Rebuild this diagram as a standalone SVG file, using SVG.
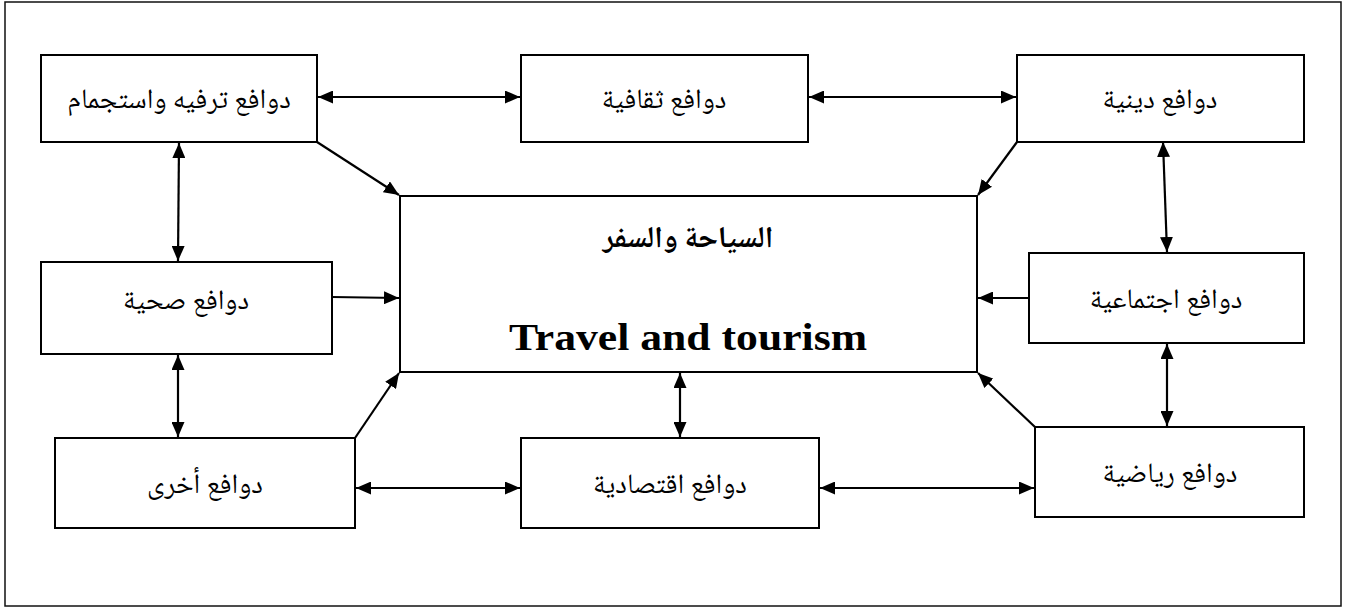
<svg xmlns="http://www.w3.org/2000/svg" width="1345" height="608" viewBox="0 0 1345 608">
<style>
.box{fill:#fff;stroke:#000;stroke-width:2}
.lbl{font-family:"Noto Naskh Arabic","Amiri","Noto Sans Arabic","DejaVu Sans",sans-serif;font-size:28px;fill:#000;text-anchor:middle}
.con{stroke:#000;stroke-width:2.2;fill:none}
.one{marker-end:url(#ah)}
.two{marker-end:url(#ah);marker-start:url(#ah)}
</style>
<defs>
<marker id="ah" markerUnits="userSpaceOnUse" markerWidth="16" markerHeight="13" refX="15" refY="6.5" orient="auto-start-reverse" viewBox="0 0 16 13">
<path d="M0,0 L15,6.5 L0,13 z" fill="#000"/>
</marker>
</defs>
<rect x="5" y="2" width="1336" height="604" fill="#fff" stroke="#111" stroke-width="1.5"/>
<g id="connectors">
<line class="con two" x1="318" y1="97" x2="520" y2="97"/>
<line class="con two" x1="809" y1="97" x2="1016" y2="97"/>
<line class="con one" x1="317" y1="142" x2="399" y2="195"/>
<line class="con one" x1="1017" y1="142" x2="978" y2="195"/>
<line class="con two" x1="179" y1="143" x2="178" y2="261"/>
<line class="con one" x1="332" y1="297" x2="399" y2="298"/>
<line class="con two" x1="178" y1="355" x2="178" y2="437"/>
<line class="con one" x1="355" y1="438" x2="399" y2="373"/>
<line class="con two" x1="356" y1="488" x2="520" y2="488"/>
<line class="con two" x1="680" y1="373" x2="680" y2="437"/>
<line class="con two" x1="820" y1="488" x2="1034" y2="488"/>
<line class="con one" x1="1035" y1="427" x2="978" y2="373"/>
<line class="con one" x1="1029" y1="298" x2="978" y2="298"/>
<line class="con two" x1="1163" y1="142" x2="1167" y2="252"/>
<line class="con two" x1="1167" y1="344" x2="1167" y2="426"/>
</g>
<g id="main">
<rect class="box" x="400" y="196" width="577" height="176"/>
<text x="688" y="247" style="font-family:'Noto Naskh Arabic','Amiri','Noto Sans Arabic','DejaVu Sans',sans-serif;font-size:30px;font-weight:bold;text-anchor:middle">السياحة والسفر</text>
<text x="688" y="350" textLength="358" lengthAdjust="spacingAndGlyphs" style="font-family:'Liberation Serif',serif;font-size:38px;font-weight:bold;text-anchor:middle">Travel and tourism</text>
</g>
<g id="n-recreation"><rect class="box" x="41" y="55" width="276" height="87"/><text class="lbl" x="179" y="108">دوافع ترفيه واستجمام</text></g>
<g id="n-cultural"><rect class="box" x="521" y="55" width="287" height="87"/><text class="lbl" x="664" y="108">دوافع ثقافية</text></g>
<g id="n-religious"><rect class="box" x="1017" y="55" width="287" height="87"/><text class="lbl" x="1160" y="108">دوافع دينية</text></g>
<g id="n-health"><rect class="box" x="41" y="262" width="291" height="92"/><text class="lbl" x="186" y="309">دوافع صحية</text></g>
<g id="n-social"><rect class="box" x="1029" y="253" width="275" height="90"/><text class="lbl" x="1166" y="308">دوافع اجتماعية</text></g>
<g id="n-other"><rect class="box" x="55" y="438" width="300" height="90"/><text class="lbl" x="205" y="493">دوافع أخرى</text></g>
<g id="n-economic"><rect class="box" x="521" y="438" width="298" height="90"/><text class="lbl" x="670" y="493">دوافع اقتصادية</text></g>
<g id="n-sports"><rect class="box" x="1035" y="427" width="269" height="90"/><text class="lbl" x="1170" y="482">دوافع رياضية</text></g>
</svg>
